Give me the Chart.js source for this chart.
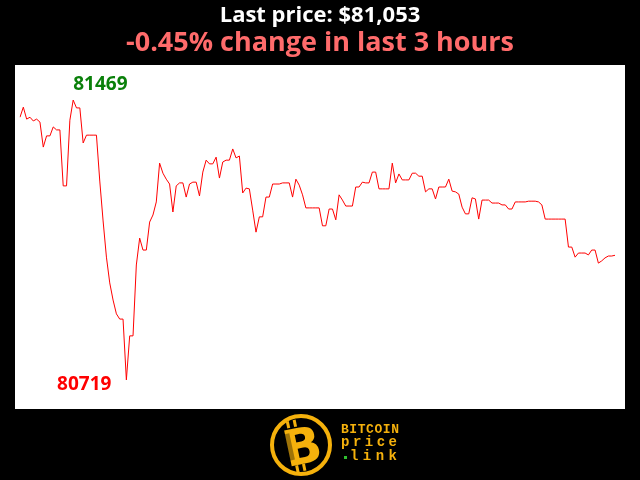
<!DOCTYPE html>
<html>
<head>
<meta charset="utf-8">
<script src="https://cdn.jsdelivr.net/npm/chart.js@4"></script>
<style>
  html, body { margin: 0; padding: 0; background: #000; }
  #wrap { position: relative; width: 640px; height: 480px; overflow: hidden; }
  #chart { position: absolute; left: 0; top: 0; }
  .ttl { position: absolute; left: 0; width: 640px; text-align: center; font-family: "Open Sans", sans-serif; font-weight: 700; white-space: nowrap; }
  #t1 { top: -2px; font-size: 22px; color: #fff; }
  #t2 { top: 22px; font-size: 27px; color: #ff6b6b; }
  #logo { position: absolute; left: 262px; top: 408px; }
</style>
</head>
<body>
<div id="wrap">
  <canvas id="chart" width="640" height="480"></canvas>
  <div class="ttl" id="t1">Last price: $81,053</div>
  <div class="ttl" id="t2">-0.45% change in last 3 hours</div>
  <svg id="logo" width="150" height="72" viewBox="0 0 150 72">
    <circle cx="39" cy="37" r="29" fill="#000" stroke="#f5b10c" stroke-width="4"/>
    <g transform="rotate(-12 39 37)" fill="#f5b10c">
      <rect x="29" y="11" width="3" height="7"/>
      <rect x="36" y="11" width="3" height="7"/>
      <rect x="29" y="56" width="3" height="7"/>
      <rect x="36" y="56" width="3" height="7"/>
      <text x="40" y="56" text-anchor="middle" font-family="DejaVu Sans" font-weight="bold" font-size="50">B</text>
      <rect x="25" y="23" width="5" height="27" fill="#000" opacity="0.35"/>
    </g>
    <text x="79" y="25" font-family="Liberation Mono, monospace" font-weight="bold" font-size="13" fill="#f5b10c" textLength="58" lengthAdjust="spacing">BITCOIN</text>
    <text x="79" y="38" font-family="Liberation Mono, monospace" font-weight="bold" font-size="14" fill="#f5b10c" textLength="56" lengthAdjust="spacing">price</text>
    <rect x="82" y="48" width="3" height="3" fill="#2fbf2f"/>
    <text x="88" y="52" font-family="Liberation Mono, monospace" font-weight="bold" font-size="14" fill="#f5b10c" textLength="47" lengthAdjust="spacing">link</text>
  </svg>
</div>
<script>
// price per minute over the last 3 hours
const prices = [
  81423, 81450, 81418, 81423, 81413, 81418, 81410, 81343, 81373, 81373,
  81397, 81389, 81389, 81239, 81239, 81415, 81469, 81448, 81448, 81354,
  81375, 81375, 81375, 81375, 81252, 81145, 81048, 80979, 80933, 80896,
  80882, 80882, 80719, 80837, 80837, 81027, 81099, 81067, 81067, 81142,
  81161, 81196, 81300, 81273, 81257, 81244, 81169, 81239, 81247, 81247,
  81209, 81244, 81249, 81249, 81212, 81276, 81308, 81298, 81298, 81316,
  81260, 81303, 81308, 81308, 81338, 81314, 81319, 81220, 81233, 81231,
  81174, 81115, 81156, 81156, 81209, 81209, 81244, 81244, 81244, 81247,
  81247, 81247, 81209, 81257, 81241, 81215, 81180, 81180, 81180, 81180,
  81180, 81132, 81132, 81177, 81177, 81148, 81215, 81201, 81185, 81185,
  81185, 81236, 81236, 81249, 81247, 81247, 81276, 81276, 81231, 81231,
  81231, 81231, 81300, 81247, 81271, 81255, 81255, 81255, 81273, 81273,
  81265, 81265, 81223, 81231, 81231, 81204, 81236, 81236, 81236, 81257,
  81225, 81223, 81217, 81182, 81164, 81164, 81207, 81204, 81150, 81201,
  81201, 81201, 81193, 81193, 81193, 81188, 81188, 81177, 81177, 81196,
  81196, 81196, 81196, 81198, 81198, 81198, 81196, 81188, 81150, 81150,
  81150, 81150, 81150, 81150, 81150, 81075, 81075, 81048, 81059, 81059,
  81059, 81054, 81067, 81067, 81032, 81038, 81046, 81051, 81051, 81053
];
const minutes = prices.map((_, i) => i);
const yMin = 80641;
const yMax = 81563;

const maxIdx = prices.indexOf(Math.max(...prices));
const minIdx = prices.indexOf(Math.min(...prices));

// white plot background, a bit wider than the data area
const bgPlugin = {
  id: 'bg',
  beforeDraw(chart) {
    const a = chart.chartArea;
    const c = chart.ctx;
    c.save();
    c.fillStyle = '#fff';
    c.fillRect(a.left - 5, a.top, a.width + 15, a.height);
    c.restore();
  }
};

// high / low labels next to the extreme points
const extremesPlugin = {
  id: 'extremes',
  afterDatasetsDraw(chart) {
    const meta = chart.getDatasetMeta(0);
    const c = chart.ctx;
    const hi = meta.data[maxIdx];
    const lo = meta.data[minIdx];
    c.save();
    c.font = 'bold 19px "Open Sans"';
    c.textBaseline = 'alphabetic';
    c.fillStyle = '#0a800a';
    c.textAlign = 'left';
    c.fillText(String(prices[maxIdx]), hi.x, hi.y - 10);
    c.fillStyle = '#ff0000';
    c.textAlign = 'right';
    c.fillText(String(prices[minIdx]), lo.x - 15, lo.y + 10);
    c.restore();
  }
};

new Chart(document.getElementById('chart'), {
  type: 'line',
  data: {
    labels: minutes,
    datasets: [{
      data: prices,
      borderColor: '#ff0000',
      borderWidth: 1,
      pointRadius: 0,
      tension: 0,
      fill: false
    }]
  },
  options: {
    responsive: false,
    animation: false,
    layout: { padding: { left: 20, right: 25, top: 65, bottom: 71 } },
    plugins: { legend: { display: false }, tooltip: { enabled: false }, title: { display: false } },
    scales: {
      x: { display: false, offset: false },
      y: { display: false, min: yMin, max: yMax }
    }
  },
  plugins: [bgPlugin, extremesPlugin]
});
</script>
</body>
</html>
